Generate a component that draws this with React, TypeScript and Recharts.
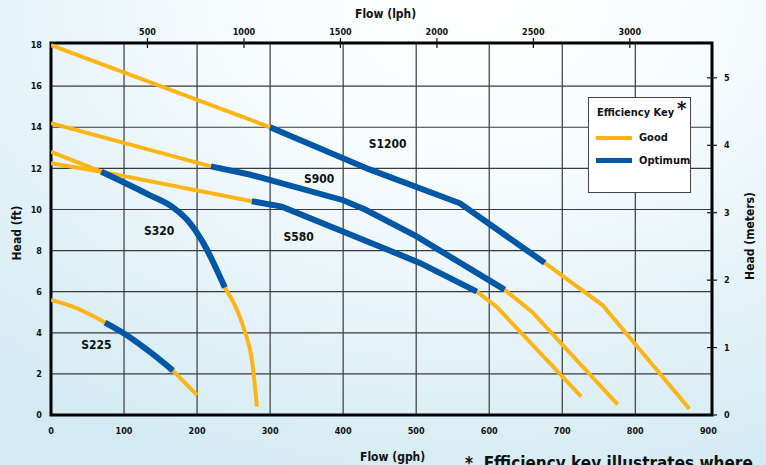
import {
  LineChart,
  Line,
  XAxis,
  YAxis,
  CartesianGrid,
  ReferenceArea,
  ReferenceDot,
} from 'recharts'

// curve values (flow in gph, head in ft)
const s1200Flow = [0, 300, 436, 560, 676, 755, 874]
const s1200Head = [18, 14.0, 11.95, 10.3, 7.4, 5.35, 0.3]

const s900Flow = [0, 219, 272, 400, 430, 500, 621, 659, 776]
const s900Head = [14.2, 12.1, 11.7, 10.45, 10.0, 8.7, 6.1, 5.0, 0.5]

const s580Flow = [0, 69, 275, 316, 450, 505, 583, 610, 726]
const s580Head = [12.25, 11.84, 10.4, 10.14, 8.2, 7.4, 6.0, 5.27, 0.9]

const s320Flow = [0, 69, 135, 167, 190, 208, 238, 256, 265, 275, 282]
const s320Head = [12.8, 11.84, 10.7, 10.1, 9.35, 8.4, 6.2, 5.0, 4.1, 2.7, 0.4]

const s225Flow = [0, 30, 74, 98.5, 135, 167, 200]
const s225Head = [5.6, 5.27, 4.5, 4.0, 3.08, 2.16, 0.97]

// index range of each curve that falls in the optimum band
const pumps = [
  { name: 'S1200', flow: s1200Flow, head: s1200Head, opt: [1, 4], curve: 'linear' },
  { name: 'S900', flow: s900Flow, head: s900Head, opt: [1, 6], curve: 'linear' },
  { name: 'S580', flow: s580Flow, head: s580Head, opt: [2, 6], curve: 'linear' },
  { name: 'S320', flow: s320Flow, head: s320Head, opt: [1, 6], curve: 'monotone' },
  { name: 'S225', flow: s225Flow, head: s225Head, opt: [2, 5], curve: 'monotone' },
]

// where the model names sit (gph, ft)
const pumpLabels = [
  { name: 'S1200', q: 461, h: 13.2 },
  { name: 'S900', q: 367, h: 11.5 },
  { name: 'S580', q: 339, h: 8.66 },
  { name: 'S320', q: 148, h: 8.95 },
  { name: 'S225', q: 62, h: 3.4 },
]

const gphTicks = [0, 100, 200, 300, 400, 500, 600, 700, 800, 900]
const lphTicks = [500, 1000, 1500, 2000, 2500, 3000]
const ftTicks = [0, 2, 4, 6, 8, 10, 12, 14, 16, 18]
const meterTicks = [0, 1, 2, 3, 4, 5]

const LPH_PER_GPH = 3.78541
const GPH_MAX = 905
const FT_MAX = 18.1
const GOOD = '#FDB515'
const OPTIMUM = '#0057A6'
const FONT = "'Liberation Sans Narrow', 'DejaVu Sans Condensed', Arial, sans-serif"

const toPoints = (flow: number[], head: number[]) =>
  flow.map((q, i) => ({ q, h: head[i] }))

const segments = pumps.flatMap((p) => {
  const pts = toPoints(p.flow, p.head)
  const [a, b] = p.opt
  return [
    { key: p.name + '-g1', kind: 'good', curve: p.curve, data: pts.slice(0, a + 1) },
    { key: p.name + '-g2', kind: 'good', curve: p.curve, data: pts.slice(b) },
    { key: p.name + '-o', kind: 'opt', curve: p.curve, data: pts.slice(a, b + 1) },
  ]
})

const tickStyle = { fill: '#111', fontSize: 9, fontWeight: 700, fontFamily: FONT }

function TopTick({ x, y, payload }: any) {
  return (
    <g>
      <line x1={x} x2={x} y1={y + 3} y2={y + 13} stroke="#111" strokeWidth={1.2} />
      <text x={x} y={y} textAnchor="middle" {...tickStyle}>
        {Math.round(payload.value * LPH_PER_GPH)}
      </text>
    </g>
  )
}

function RightTick({ x, y, payload }: any) {
  return (
    <g>
      <line x1={x - 17} x2={x - 7} y1={y} y2={y} stroke="#111" strokeWidth={1.2} />
      <text x={x} y={y + 3} textAnchor="start" {...tickStyle}>
        {payload.value}
      </text>
    </g>
  )
}

const labelText = { position: 'absolute' as const, fontSize: 12, fontWeight: 700, color: '#111', whiteSpace: 'nowrap' as const }

export default function App() {
  return (
    <div
      style={{
        position: 'absolute',
        left: 0,
        top: 0,
        width: 766,
        height: 465,
        overflow: 'hidden',
        fontFamily: FONT,
        background:
          'radial-gradient(ellipse 95% 110% at 62% 0%, #ffffff 0%, #f6fbfd 35%, #d3eaf3 100%)',
      }}
    >
      <LineChart
        width={766}
        height={465}
        margin={{ top: 15, right: 14, bottom: 20, left: 21 }}
      >
        <CartesianGrid
          xAxisId="gph"
          yAxisId="ft"
          stroke="#3a3a3a"
          strokeWidth={1.2}
          verticalValues={[100, 200, 300, 400, 500, 600, 700, 800]}
          horizontalValues={[2, 4, 6, 8, 10, 12, 14, 16]}
        />
        <XAxis
          xAxisId="gph"
          dataKey="q"
          type="number"
          domain={[0, GPH_MAX]}
          ticks={gphTicks}
          allowDataOverflow
          height={30}
          axisLine={false}
          tickLine={false}
          tickSize={0}
          tickMargin={13}
          tick={tickStyle}
        />
        <XAxis
          xAxisId="lph"
          dataKey="q"
          orientation="top"
          type="number"
          domain={[0, GPH_MAX]}
          ticks={lphTicks.map((v) => v / LPH_PER_GPH)}
          allowDataOverflow
          interval={0}
          height={28}
          axisLine={false}
          tickLine={false}
          tickSize={0}
          tickMargin={8}
          tick={<TopTick />}
        />
        <YAxis
          yAxisId="ft"
          type="number"
          domain={[0, FT_MAX]}
          ticks={ftTicks}
          allowDataOverflow
          width={30}
          axisLine={false}
          tickLine={false}
          tickSize={0}
          tickMargin={9}
          tick={tickStyle}
        />
        <YAxis
          yAxisId="m"
          orientation="right"
          type="number"
          domain={[0, FT_MAX / 3.28084]}
          ticks={meterTicks}
          allowDataOverflow
          width={40}
          axisLine={false}
          tickLine={false}
          tickSize={0}
          tickMargin={12}
          tick={<RightTick />}
        />
        <ReferenceArea
          xAxisId="gph"
          yAxisId="ft"
          x1={0}
          x2={GPH_MAX}
          y1={0}
          y2={FT_MAX}
          fill="none"
          fillOpacity={0}
          stroke="#000"
          strokeWidth={3}
          ifOverflow="visible"
        />
        {segments
          .filter((s) => s.kind === 'good')
          .map((s) => (
            <Line
              key={s.key}
              xAxisId="gph"
              yAxisId="ft"
              data={s.data}
              dataKey="h"
              type={s.curve as any}
              stroke={GOOD}
              strokeWidth={4}
              dot={false}
              activeDot={false}
              isAnimationActive={false}
            />
          ))}
        {segments
          .filter((s) => s.kind === 'opt')
          .map((s) => (
            <Line
              key={s.key}
              xAxisId="gph"
              yAxisId="ft"
              data={s.data}
              dataKey="h"
              type={s.curve as any}
              stroke={OPTIMUM}
              strokeWidth={6}
              dot={false}
              activeDot={false}
              isAnimationActive={false}
            />
          ))}
        {/* same flow values on the lph axis so that axis gets drawn */}
        <Line
          xAxisId="lph"
          yAxisId="ft"
          data={toPoints(s1200Flow, s1200Head)}
          dataKey="h"
          stroke="none"
          dot={false}
          activeDot={false}
          legendType="none"
          isAnimationActive={false}
        />
        {pumpLabels.map((l) => (
          <ReferenceDot
            key={l.name}
            xAxisId="gph"
            yAxisId="ft"
            x={l.q}
            y={l.h}
            r={0}
            stroke="none"
            label={{
              value: l.name,
              position: 'center',
              fill: '#111',
              fontSize: 12,
              fontWeight: 700,
              fontFamily: FONT,
            }}
          />
        ))}
      </LineChart>

      <div style={{ ...labelText, left: 355, top: 7 }}>Flow (lph)</div>
      <div style={{ ...labelText, left: 360, top: 450 }}>Flow (gph)</div>
      <div
        style={{
          ...labelText,
          left: 17,
          top: 233,
          transform: 'translate(-50%, -50%) rotate(-90deg)',
        }}
      >
        Head (ft)
      </div>
      <div
        style={{
          ...labelText,
          left: 750,
          top: 236,
          transform: 'translate(-50%, -50%) rotate(-90deg)',
        }}
      >
        Head (meters)
      </div>
      <div style={{ ...labelText, left: 465, top: 453, fontSize: 17 }}>
        *&nbsp;&nbsp;Efficiency key illustrates where
      </div>

      <div
        style={{
          position: 'absolute',
          left: 588,
          top: 97,
          width: 101,
          height: 94,
          background: '#fff',
          border: '1px solid #444',
          fontWeight: 700,
          color: '#111',
          fontSize: 11,
          lineHeight: '13px',
        }}
      >
        <div style={{ position: 'absolute', left: 8, top: 8, whiteSpace: 'nowrap' }}>Efficiency Key</div>
        <div style={{ position: 'absolute', left: 88, top: 0, fontSize: 20, lineHeight: '20px' }}>*</div>
        <div style={{ position: 'absolute', left: 7, top: 38, width: 36, height: 4, background: GOOD }} />
        <div style={{ position: 'absolute', left: 50, top: 33 }}>Good</div>
        <div style={{ position: 'absolute', left: 7, top: 60, width: 36, height: 5, background: OPTIMUM }} />
        <div style={{ position: 'absolute', left: 50, top: 56 }}>Optimum</div>
      </div>
    </div>
  )
}
